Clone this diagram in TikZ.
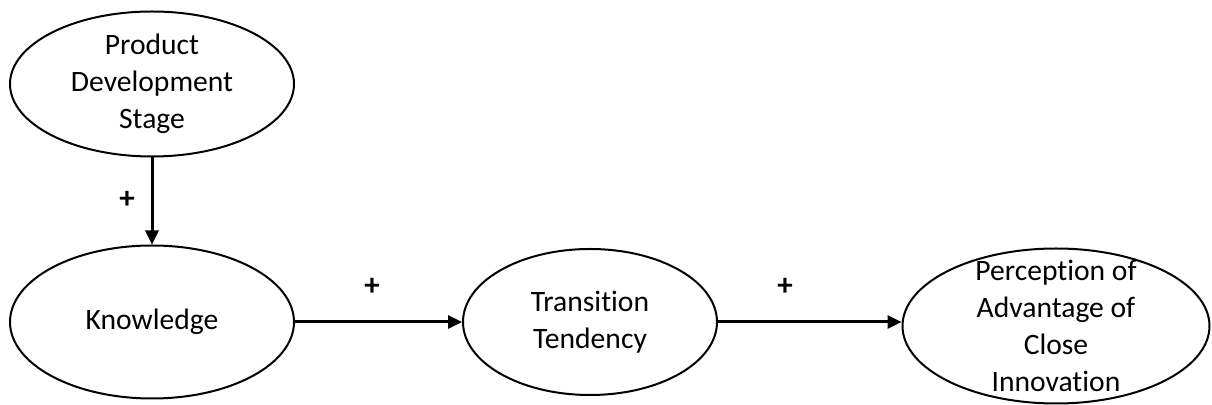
\documentclass[tikz,border=0pt]{standalone}
\usepackage{fontspec}
\setmainfont{Carlito}[Ligatures=NoCommon]
\usetikzlibrary{shapes.geometric,arrows.meta}

\begin{document}
\begin{tikzpicture}[x=0.5pt,y=-0.5pt,
        var/.style={ellipse, draw, line width=1pt, align=center, inner xsep=0pt, inner ysep=-12pt,
                    font=\fontsize{14.8}{18.4}\selectfont},
        arr/.style={-{Triangle[length=7pt,width=6.5pt]}, line width=1.5pt},
        sign/.style={font=\fontsize{15.5}{18}\selectfont\bfseries, inner sep=0pt}]
    \useasboundingbox (0,0) rectangle (1212,405);

    \node[var, minimum width=142pt, minimum height=72.5pt] (PDS) at (152, 84) {Product\\Development\\Stage};
    \node[var, minimum width=142pt, minimum height=76.5pt] (K) at (152, 322) {Knowledge};
    \node[var, minimum width=127pt, minimum height=73pt] (TT) at (590, 322) {Transition\\Tendency};
    \node[var, minimum width=153.5pt, minimum height=77.5pt] (PA) at (1056, 326) {Perception of\\Advantage of\\Close\\Innovation};

    \draw[arr] (PDS) -- (K);
    \draw[arr] (K) -- (TT);
    \draw[arr] (TT.east) -- (TT.east -| PA.west);

    \node[sign] (s1) at (127, 200) {+};
    \node[sign] (s2) at (372, 287) {+};
    \node[sign] (s3) at (785, 287) {+};
\end{tikzpicture}
\end{document}
